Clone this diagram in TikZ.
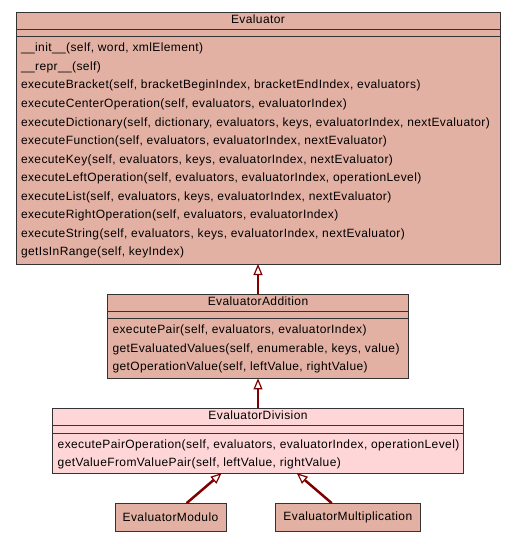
\documentclass[tikz,border=0pt]{standalone}
\usepackage{fontspec}
\setmainfont{Liberation Sans}[LetterSpace=3.3]
\usepackage{xcolor}
\usetikzlibrary{arrows.meta,positioning}
\definecolor{classfill}{HTML}{E2B1A3}
\definecolor{subfill}{HTML}{FFD6D7}
\definecolor{linkred}{HTML}{800000}

\begin{document}
\begin{tikzpicture}[
  x=1pt, y=-1pt,
  font=\fontsize{12}{14}\selectfont,
  node distance=30pt,
  cls/.style={draw=black!80, line width=1pt, fill=classfill, inner sep=0pt, outer sep=0pt},
  sub/.style={cls, fill=subfill},
  leaf/.style={cls, minimum height=28pt},
  txt/.style={inner sep=0pt},
  sep/.style={draw=black!80, line width=1pt},
  inherit/.style={draw=linkred, line width=2.5pt, -{Triangle[length=11pt, width=9pt, line width=1.2pt, fill=white]}}
]
\useasboundingbox (0,0) rectangle (515,544);

% class boxes
\node[cls, minimum width=484pt, minimum height=252pt, anchor=north west] (evaluator) at (16,12) {};
\node[cls, minimum width=301pt, minimum height=84.4pt, below=30pt of evaluator] (addition) {};
\node[sub, minimum width=410.6pt, minimum height=64.7pt, below=30pt of addition] (division) {};
\node[leaf, minimum width=111pt, below=30pt of division, xshift=-87.5pt] (modulo) {EvaluatorModulo};
\node[leaf, minimum width=144.3pt, below=30pt of division, xshift=89.85pt] (multiplication) {EvaluatorMultiplication};

% compartments
\foreach \c in {evaluator,addition,division} {
  \draw[sep] ([yshift=-17pt]\c.north west) -- ([yshift=-17pt]\c.north east);
  \draw[sep] ([yshift=-24.7pt]\c.north west) -- ([yshift=-24.7pt]\c.north east);
}

% names
\node[txt, anchor=base] (evaluatorName) at ([yshift=-11.5pt]evaluator.north) {Evaluator};
\node[txt, anchor=base] (additionName) at ([yshift=-11.5pt]addition.north) {EvaluatorAddition};
\node[txt, anchor=base] (divisionName) at ([yshift=-11.5pt]division.north) {EvaluatorDivision};

% operations
\foreach \m [count=\i] in {
  {\_\_init\_\_(self, word, xmlElement)},
  {\_\_repr\_\_(self)},
  {executeBracket(self, bracketBeginIndex, bracketEndIndex, evaluators)},
  {executeCenterOperation(self, evaluators, evaluatorIndex)},
  {executeDictionary(self, dictionary, evaluators, keys, evaluatorIndex, nextEvaluator)},
  {executeFunction(self, evaluators, evaluatorIndex, nextEvaluator)},
  {executeKey(self, evaluators, keys, evaluatorIndex, nextEvaluator)},
  {executeLeftOperation(self, evaluators, evaluatorIndex, operationLevel)},
  {executeList(self, evaluators, keys, evaluatorIndex, nextEvaluator)},
  {executeRightOperation(self, evaluators, evaluatorIndex)},
  {executeString(self, evaluators, keys, evaluatorIndex, nextEvaluator)},
  {getIsInRange(self, keyIndex)}}
  \node[txt, anchor=base west] (evaluatorOp\i) at ([xshift=4.8pt, yshift={-21.3pt-18.55pt*\i}]evaluator.north west) {\m};
\foreach \m [count=\i] in {
  {executePair(self, evaluators, evaluatorIndex)},
  {getEvaluatedValues(self, enumerable, keys, value)},
  {getOperationValue(self, leftValue, rightValue)}}
  \node[txt, anchor=base west] (additionOp\i) at ([xshift=4.8pt, yshift={-21.3pt-18.5pt*\i}]addition.north west) {\m};
\foreach \m [count=\i] in {
  {executePairOperation(self, evaluators, evaluatorIndex, operationLevel)},
  {getValueFromValuePair(self, leftValue, rightValue)}}
  \node[txt, anchor=base west] (divisionOp\i) at ([xshift=4.8pt, yshift={-21.3pt-18.5pt*\i}]division.north west) {\m};

% generalizations
\draw[inherit] (addition.north) -- (evaluator.south);
\draw[inherit] (division.north) -- (addition.south);
\draw[inherit] ([xshift=16.2pt]modulo.north) -- ([xshift=-36.3pt]division.south);
\draw[inherit] ([xshift=-16.15pt]multiplication.north) -- ([xshift=38.7pt]division.south);
\end{tikzpicture}
\end{document}
